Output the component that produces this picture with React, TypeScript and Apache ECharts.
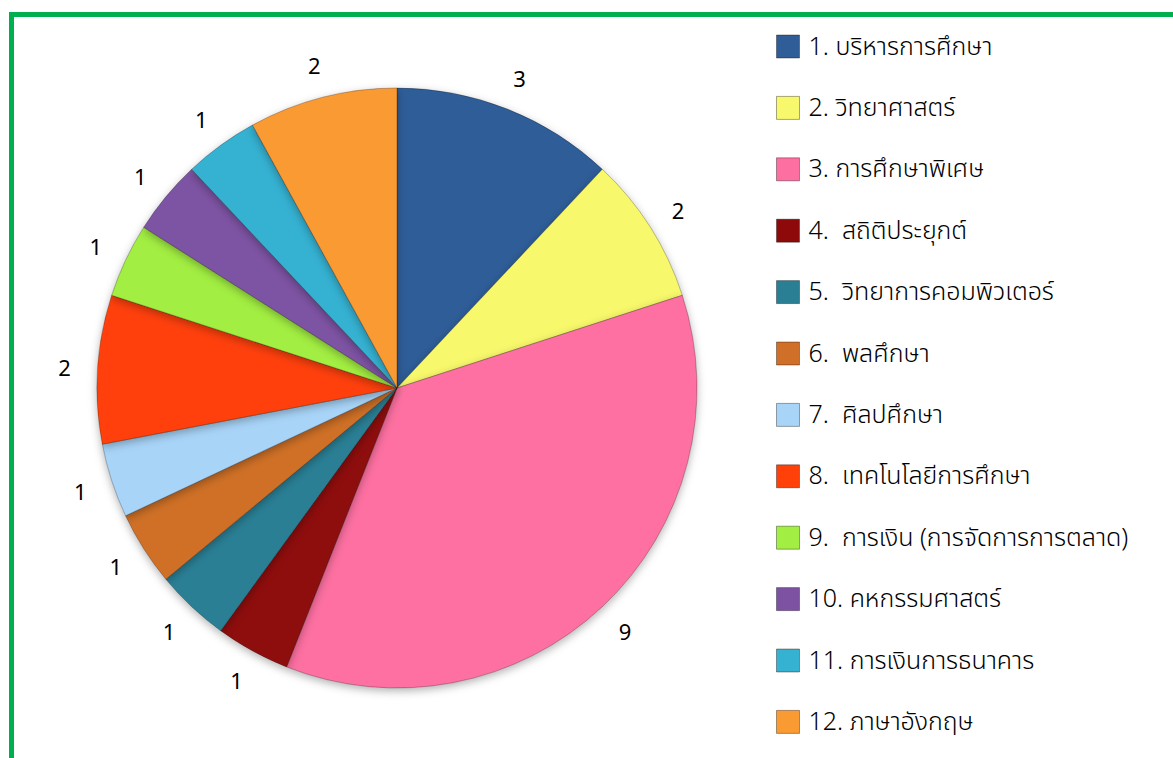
import React, { useEffect, useRef } from "react";
import * as echarts from "echarts";

const categories = [
  "1. บริหารการศึกษา",
  "2. วิทยาศาสตร์",
  "3. การศึกษาพิเศษ",
  "4.  สถิติประยุกต์",
  "5.  วิทยาการคอมพิวเตอร์",
  "6.  พลศึกษา",
  "7.  ศิลปศึกษา",
  "8.  เทคโนโลยีการศึกษา",
  "9.  การเงิน (การจัดการการตลาด)",
  "10. คหกรรมศาสตร์",
  "11. การเงินการธนาคาร",
  "12. ภาษาอังกฤษ",
];
const values = [3, 2, 9, 1, 1, 1, 1, 2, 1, 1, 1, 2];
const colors = [
  "#2F5D98",
  "#F8F86C",
  "#FD6FA1",
  "#8E0A0A",
  "#2A7F95",
  "#CF6F28",
  "#A8D4F8",
  "#FF4008",
  "#A2EE42",
  "#7D52A3",
  "#35B1D2",
  "#F99A33",
];

export default function App() {
  const ref = useRef<HTMLDivElement>(null);
  useEffect(() => {
    if (!ref.current) return;
    const chart = echarts.init(ref.current, undefined, { renderer: "svg" });
    const data = categories.map((name, i) => ({
      name,
      value: values[i],
      itemStyle: { color: colors[i] },
    }));
    chart.setOption({
      animation: false,
      color: colors,
      graphic: [
        {
          type: "rect",
          shape: { x: 11.5, y: 14.5, width: 1250, height: 850 },
          style: { fill: "none", stroke: "#00B050", lineWidth: 5 },
          silent: true,
        },
      ],
      legend: {
        orient: "vertical",
        left: 771,
        top: 29,
        itemWidth: 23,
        itemHeight: 23,
        itemGap: 36.4,
        icon: "rect",
        data: categories,
        selectedMode: false,
        itemStyle: {
          borderWidth: 1,
          borderColor: "rgba(0,0,0,0.35)",
          shadowBlur: 0,
          shadowColor: "transparent",
        },
        textStyle: {
          fontFamily: "'Noto Sans Thai', 'Noto Sans', sans-serif",
          fontSize: 25,
          fontWeight: 300,
          color: "#000",
          padding: [0, 0, 0, 4],
        },
      },
      series: [
        {
          type: "pie",
          center: [397, 388],
          radius: [0, 300],
          startAngle: 90,
          clockwise: true,
          data,
          label: { show: false },
          labelLine: { show: false },
          silent: true,
          itemStyle: {
            borderColor: "rgba(0,0,0,0.25)",
            borderWidth: 1,
            shadowBlur: 8,
            shadowOffsetY: 3,
            shadowColor: "rgba(0,0,0,0.3)",
          },
        },
        {
          type: "pie",
          center: [397, 388],
          radius: [328, 332],
          startAngle: 90,
          clockwise: true,
          silent: true,
          legendHoverLink: false,
          data: categories.map((name, i) => ({
            name,
            value: values[i],
            itemStyle: { color: "rgba(0,0,0,0)" },
          })),
          label: {
            show: true,
            position: "inside",
            formatter: "{c}",
            color: "#000",
            fontSize: 22,
            fontFamily: "'Noto Sans', sans-serif",
          },
          labelLine: { show: false },
        },
      ],
    });
    return () => chart.dispose();
  }, []);
  return (
    <div
      style={{ position: "fixed", left: 0, top: 0, width: 1173, height: 758, overflow: "hidden", background: "#fff" }}
    >
      <div ref={ref} style={{ width: 1173, height: 758 }} />
    </div>
  );
}
